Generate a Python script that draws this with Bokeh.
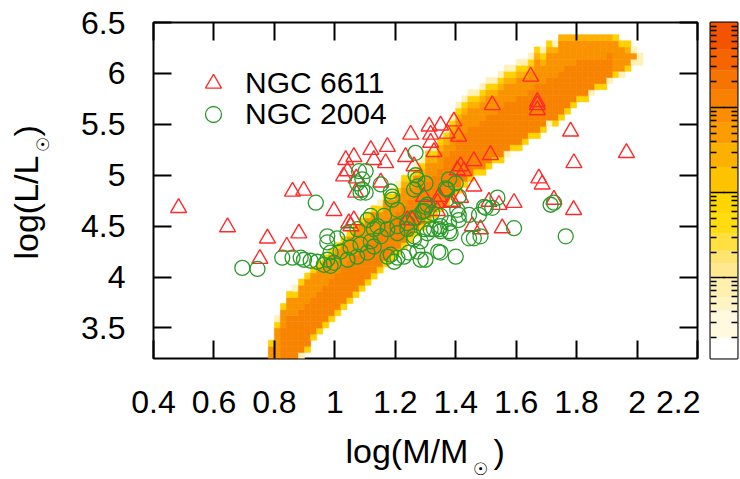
import numpy as np
from bokeh.plotting import figure
from bokeh.models import (FixedTicker, LinearAxis, Range1d, Label, Legend, LegendItem,
                          ColumnDataSource, NumeralTickFormatter)
from bokeh.layouts import row, column
from bokeh.embed import file_html
from bokeh.resources import INLINE

# ---------------- data ----------------
x_ticks = [0.4, 0.6, 0.8, 1.0, 1.2, 1.4, 1.6, 1.8, 2.0, 2.2]
x_tick_labels = ["0.4", "0.6", "0.8", "1", "1.2", "1.4", "1.6", "1.8", "2", "2.2"]
y_ticks = [3.5, 4.0, 4.5, 5.0, 5.5, 6.0, 6.5]
y_tick_labels = ["3.5", "4", "4.5", "5", "5.5", "6", "6.5"]

series_names = ["NGC 6611", "NGC 2004"]

ngc6611_logM = [0.483, 0.645, 0.777, 0.881, 0.841, 0.752, 0.997, 0.860, 0.897, 1.069,
                1.294, 1.340, 1.046, 1.240, 1.036, 1.063, 1.119, 1.174, 1.129, 1.168,
                1.251, 1.234, 1.029, 1.071, 1.152, 1.042, 1.312, 1.350, 1.394, 1.317,
                1.372, 1.410, 1.317, 1.460, 1.405, 1.427, 1.345, 1.460, 1.521, 1.670,
                1.670, 1.328, 1.262, 1.515, 1.416, 1.675, 1.686, 1.383, 1.416, 1.510,
                1.543, 1.593, 1.256, 1.339, 1.482, 1.554, 1.725, 1.790, 1.455, 1.648,
                1.670, 1.780, 1.965, 1.791, 1.063, 1.053, 1.390]
ngc6611_logL = [4.68, 4.49, 4.38, 4.43, 4.30, 4.18, 4.65, 4.84, 4.85, 4.83,
                4.79, 4.73, 4.53, 4.56, 5.15, 5.18, 5.25, 5.28, 5.15, 5.12,
                5.40, 5.18, 4.99, 4.97, 4.93, 5.04, 5.48, 5.49, 5.53, 5.40,
                5.41, 5.38, 5.32, 5.14, 5.05, 5.04, 4.79, 4.89, 5.69, 5.69,
                5.64, 5.23, 5.09, 5.20, 5.09, 4.97, 4.91, 4.73, 4.78, 4.74,
                4.71, 4.73, 4.56, 4.65, 4.47, 4.48, 4.76, 4.66, 4.50, 5.97,
                5.72, 5.43, 5.22, 5.12, 4.56, 4.50, 4.74]

ngc2004_logM = [0.694, 0.744, 0.826, 0.860, 0.887, 0.898, 0.920, 0.942, 0.964, 0.986,
                0.975, 0.997, 1.042, 0.975, 0.975, 1.008, 1.042, 1.075, 0.986, 1.019,
                1.052, 1.085, 1.119, 1.152, 1.074, 1.108, 1.129, 1.129, 1.119, 1.085,
                1.108, 1.141, 1.174, 1.163, 1.207, 1.190, 1.185, 1.207, 1.240, 1.262,
                1.290, 1.322, 1.350, 1.185, 1.207, 1.229, 1.174, 1.196, 1.273, 1.284,
                1.350, 1.400, 1.262, 1.306, 1.345, 1.378, 1.378, 1.410, 1.444, 1.477,
                1.494, 1.262, 1.405, 1.460, 1.482, 0.937, 1.080, 1.102, 1.091, 1.091,
                1.152, 1.190, 1.267, 1.267, 1.273, 1.273, 1.367, 1.378, 1.400, 1.300,
                1.074, 1.102, 1.300, 1.372, 1.410, 1.410, 1.499, 1.538, 1.725, 1.593,
                1.444, 1.383, 1.350, 1.317, 1.300, 1.764, 1.521, 1.714, 1.306, 1.295,
                1.245, 1.207, 1.240, 1.262, 1.295, 1.328, 1.350, 1.342, 1.284]
ngc2004_logL = [4.09, 4.08, 4.19, 4.19, 4.19, 4.17, 4.16, 4.15, 4.12, 4.11,
                4.17, 4.14, 4.17, 4.34, 4.40, 4.38, 4.43, 4.47, 4.24, 4.25,
                4.29, 4.32, 4.35, 4.40, 4.20, 4.24, 4.30, 4.47, 4.60, 4.83,
                4.56, 4.50, 4.47, 4.60, 4.66, 4.76, 4.84, 4.50, 4.53, 4.58,
                4.64, 4.63, 4.60, 4.22, 4.19, 4.20, 4.20, 4.15, 4.25, 4.17,
                4.24, 4.20, 4.37, 4.43, 4.47, 4.45, 4.53, 4.56, 4.61, 4.61,
                4.69, 4.86, 4.66, 4.38, 4.40, 4.73, 5.04, 5.04, 4.96, 4.86,
                4.91, 4.79, 5.22, 5.00, 4.96, 4.89, 4.87, 4.96, 4.92, 4.69,
                4.92, 4.83, 4.92, 4.86, 4.79, 4.61, 4.68, 4.78, 4.73, 4.48,
                4.38, 4.43, 4.45, 4.47, 4.17, 4.40, 4.68, 4.71, 4.71, 4.65,
                4.24, 4.43, 4.47, 4.40, 4.47, 4.47, 4.50, 4.25, 4.35]

# model density map: columns (left edge in log M), band bottom/top in log L,
# light cells at the top edge (top-down) and at the bottom edge (bottom-up)
band_x = [0.78, 0.80, 0.82, 0.84, 0.86, 0.88, 0.90, 0.92, 0.94, 0.96,
          0.98, 1.00, 1.02, 1.04, 1.06, 1.08, 1.10, 1.12, 1.14, 1.16,
          1.18, 1.20, 1.22, 1.24, 1.26, 1.28, 1.30, 1.32, 1.34, 1.36,
          1.38, 1.40, 1.42, 1.44, 1.46, 1.48, 1.50, 1.52, 1.54, 1.56,
          1.58, 1.60, 1.62, 1.64, 1.66, 1.68, 1.70, 1.72, 1.74, 1.76,
          1.78, 1.80, 1.82, 1.84, 1.86, 1.88, 1.90, 1.92, 1.94, 1.96,
          1.98, 2.00]
band_lo = [3.20, 3.20, 3.20, 3.20, 3.20, 3.20, 3.26, 3.38, 3.44, 3.50,
           3.56, 3.62, 3.68, 3.74, 3.80, 3.86, 3.92, 3.98, 4.04, 4.10,
           4.16, 4.22, 4.28, 4.34, 4.40, 4.46, 4.52, 4.58, 4.64, 4.70,
           4.76, 4.82, 4.88, 4.94, 5.00, 5.00, 5.06, 5.12, 5.12, 5.18,
           5.24, 5.24, 5.30, 5.36, 5.36, 5.42, 5.48, 5.48, 5.54, 5.60,
           5.66, 5.72, 5.72, 5.78, 5.84, 5.84, 5.90, 5.96, 5.96, 6.02,
           6.08, 6.08]
band_hi = [3.38, 3.62, 3.74, 3.86, 3.92, 3.98, 4.04, 4.10, 4.16, 4.22,
           4.28, 4.34, 4.40, 4.46, 4.52, 4.58, 4.64, 4.70, 4.76, 4.82,
           4.88, 4.94, 5.00, 5.06, 5.12, 5.18, 5.24, 5.30, 5.36, 5.48,
           5.60, 5.72, 5.78, 5.84, 5.84, 5.90, 5.96, 5.96, 6.02, 6.08,
           6.08, 6.14, 6.14, 6.20, 6.26, 6.26, 6.32, 6.32, 6.38, 6.38,
           6.38, 6.38, 6.38, 6.38, 6.38, 6.38, 6.38, 6.38, 6.32, 6.32,
           6.26, 6.20]
band_top_fringe = ["Y", "PY", "Y", "Y", "PY", "Y", "Y", "Y", "Y", "Y",
                   "Y", "Y", "Y", "Y", "Y", "Y", "Y", "Y", "PY", "Y",
                   "PY", "PY", "YA", "PYA", "PY", "PYA", "YA", "PYA", "YA", "PYA",
                   "PYA", "PYA", "PYA", "PYA", "PYA", "PYA", "PYA", "PYA", "PYA", "PYA",
                   "PYA", "PYA", "PYA", "PYA", "YA", "PYA", "YA", "PA", "A", "A",
                   "A", "A", "A", "A", "A", "A", "A", "Y", "Y", "YA",
                   "P", "P"]
band_bottom_fringe = ["", "", "", "", "", "P", "Y", "Y", "Y", "Y",
                      "Y", "Y", "Y", "Y", "Y", "Y", "Y", "Y", "Y", "Y",
                      "Y", "Y", "Y", "Y", "Y", "Y", "Y", "Y", "Y", "Y",
                      "Y", "Y", "Y", "Y", "Y", "Y", "Y", "Y", "Y", "P",
                      "Y", "Y", "Y", "Y", "Y", "Y", "P", "Y", "Y", "Y",
                      "Y", "Y", "Y", "P", "Y", "Y", "P", "Y", "P", "Y",
                      "P", "P"]
cell_dx = 0.02
cell_dy = 0.06
grid_y0 = 3.2

# colour bar: band edges (log10 of counts, top to bottom) and colours
cbar_edges_log = [4.0, 3.68, 3.44, 3.21, 3.0, 2.82, 2.58, 2.30, 2.0, 1.76,
                  1.52, 1.32, 1.17, 1.0, 0.77, 0.61, 0.29, 0.05]
cbar_colors = ["#f25400", "#f46400", "#f67400", "#f88200", "#fa8e00", "#fb9c00",
               "#fcb000", "#fdc300", "#ffd500", "#ffdc10", "#ffe040", "#ffe470",
               "#ffe890", "#fff0b0", "#fff4c4", "#fff9e0", "#ffffff"]
cbar_decades = [1, 2, 3]

# ---------------- styles ----------------
FONT = "Liberation Sans"
C_P, C_Y, C_A, C_O, C_D = "#fff1b8", "#ffd200", "#fdb000", "#fa9300", "#f78300"
code_color = {"P": C_P, "Y": C_Y, "A": C_A}
RED, GREEN = "#ff2a2a", "#2b9a2b"

# build density cells from the band arrays
L, R, B, T, FC = [], [], [], [], []
for x0, lo, hi, tf, bf in zip(band_x, band_lo, band_hi, band_top_fringe, band_bottom_fringe):
    k0 = int(round((lo - grid_y0) / cell_dy))
    k1 = int(round((hi - grid_y0) / cell_dy))
    n = k1 - k0
    for k in range(k0, k1):
        j = k1 - 1 - k      # index from top
        b = k - k0          # index from bottom
        if j < len(tf):
            c = code_color[tf[j]]
        elif b < len(bf):
            c = code_color[bf[b]]
        elif n >= 8 and b < 0.55 * n:
            c = C_D
        else:
            c = C_O
        L.append(x0); R.append(x0 + cell_dx)
        B.append(grid_y0 + k * cell_dy); T.append(grid_y0 + (k + 1) * cell_dy)
        FC.append(c)
cells = ColumnDataSource(dict(left=L, right=R, bottom=B, top=T, color=FC))

H_TOP = 430   # height of the plot row; axis title strip below

p = figure(width=640, height=H_TOP, x_range=Range1d(0.4, 2.2), y_range=Range1d(3.2, 6.5),
           output_backend="svg", toolbar_location=None,
           min_border_left=93, min_border_right=3, min_border_top=22, min_border_bottom=71)
p.xgrid.visible = False
p.ygrid.visible = False
p.outline_line_color = "black"
p.outline_line_width = 2
p.background_fill_color = "white"
p.border_fill_color = "white"

p.quad(left="left", right="right", bottom="bottom", top="top", source=cells,
       fill_color="color", line_color="color", line_width=0.6)

r1 = p.scatter(ngc6611_logM, ngc6611_logL, marker="triangle", size=16,
               fill_color=None, line_color=RED, line_width=1.4)
r2 = p.scatter(ngc2004_logM, ngc2004_logL, marker="circle", size=15,
               fill_color=None, line_color=GREEN, line_width=1.3)


def style_axis(ax, ticks, labels, show):
    ax.ticker = FixedTicker(ticks=ticks)
    ax.major_tick_in = 18
    ax.major_tick_out = 0
    ax.minor_tick_in = 0
    ax.minor_tick_out = 0
    ax.major_tick_line_width = 2
    ax.major_tick_line_color = "black"
    ax.axis_line_color = None
    if show:
        ax.formatter = NumeralTickFormatter(format="0.[0]")
        ax.major_label_overrides = {float(t): s for t, s in zip(ticks, labels)}
        ax.major_label_text_font = FONT
        ax.major_label_text_font_size = "32px"
        ax.major_label_text_color = "black"
        ax.major_label_standoff = 32
    else:
        ax.major_label_text_color = None
        ax.major_label_text_font_size = "1px"
        ax.major_label_standoff = 0


style_axis(p.xaxis[0], x_ticks, x_tick_labels, True)
style_axis(p.yaxis[0], y_ticks, y_tick_labels, True)
p.yaxis[0].major_label_standoff = 28
top_ax = LinearAxis()
right_ax = LinearAxis()
style_axis(top_ax, x_ticks, x_tick_labels, False)
style_axis(right_ax, y_ticks, y_tick_labels, False)
p.add_layout(top_ax, "above")
p.add_layout(right_ax, "right")

# one legend box per entry so that the rows sit exactly where the reference has them
leg_kw = dict(glyph_width=40, glyph_height=40, padding=0, margin=0, label_standoff=12,
              label_text_font=FONT, label_text_font_size="30px", label_text_color="black",
              border_line_color=None, background_fill_alpha=0)
p.add_layout(Legend(items=[LegendItem(label=series_names[0], renderers=[r1])],
                    location=(40, 255), **leg_kw))
p.add_layout(Legend(items=[LegendItem(label=series_names[1], renderers=[r2])],
                    location=(40, 224), **leg_kw))

# ---------------- colour bar ----------------
cb = figure(width=40, height=H_TOP, x_range=Range1d(0, 1),
            y_range=Range1d(cbar_edges_log[-1], cbar_edges_log[0]),
            output_backend="svg", toolbar_location=None,
            min_border_left=10, min_border_right=3, min_border_top=22, min_border_bottom=72)
cb.xgrid.visible = False
cb.ygrid.visible = False
cb.xaxis.visible = False
cb.outline_line_color = "black"
cb.outline_line_width = 2
cb.quad(left=0, right=1, bottom=cbar_edges_log[1:], top=cbar_edges_log[:-1],
        fill_color=cbar_colors, line_color=cbar_colors, line_width=0.5)

minor = [d + np.log10(k) for d in [0] + cbar_decades for k in range(2, 10)]
minor = [m for m in minor if cbar_edges_log[-1] < m < cbar_edges_log[0]]


def style_cbar_axis(ax):
    ax.ticker = FixedTicker(ticks=cbar_decades, minor_ticks=minor)
    ax.major_tick_in = 14
    ax.major_tick_out = 0
    ax.minor_tick_in = 6
    ax.minor_tick_out = 0
    ax.major_tick_line_width = 1.5
    ax.minor_tick_line_width = 1.5
    ax.major_tick_line_color = "black"
    ax.minor_tick_line_color = "black"
    ax.axis_line_color = None
    ax.major_label_text_color = None
    ax.major_label_text_font_size = "1px"
    ax.major_label_standoff = 0


style_cbar_axis(cb.yaxis[0])
cb_right = LinearAxis()
style_cbar_axis(cb_right)
cb.add_layout(cb_right, "right")

# ---------------- axis titles (with subscript sun symbol) ----------------
def blank(w, h):
    f = figure(width=w, height=h, x_range=Range1d(0, 1), y_range=Range1d(0, 1),
               output_backend="svg", toolbar_location=None,
               x_axis_location=None, y_axis_location=None,
               min_border_left=0, min_border_right=0, min_border_top=0, min_border_bottom=0)
    f.grid.visible = False
    f.outline_line_color = None
    f.background_fill_color = "white"
    f.border_fill_color = "white"
    return f


yfig = blank(60, H_TOP)   # its frame is aligned with the main frame (canvas y 22..359)
xfig = blank(740, 479 - H_TOP)

lab_kw = dict(x_units="screen", y_units="screen", text_color="black")
sun_kw = dict(text_font="DejaVu Sans", text_font_size="17px",
              text_align="center", text_baseline="middle")

xfig.add_layout(Label(x=345, y=29, text="log(M/M", text_font=FONT, text_font_size="34px",
                      text_baseline="alphabetic", **lab_kw))
xfig.add_layout(Label(x=480, y=11, text="\u2609", **sun_kw, **lab_kw))
xfig.add_layout(Label(x=493, y=29, text=")", text_font=FONT, text_font_size="34px",
                      text_baseline="alphabetic", **lab_kw))

yfig.add_layout(Label(x=25, y=99, text="log(L/L", angle=np.pi / 2, text_font=FONT,
                      text_font_size="34px", text_baseline="alphabetic", **lab_kw))
yfig.add_layout(Label(x=42, y=214, text="\u2609", angle=np.pi / 2, **sun_kw, **lab_kw))
yfig.add_layout(Label(x=25, y=222, text=")", angle=np.pi / 2, text_font=FONT,
                      text_font_size="34px", text_baseline="alphabetic", **lab_kw))

layout = column(row(yfig, p, cb), xfig)
open("out.html", "w").write(file_html(layout, INLINE))
